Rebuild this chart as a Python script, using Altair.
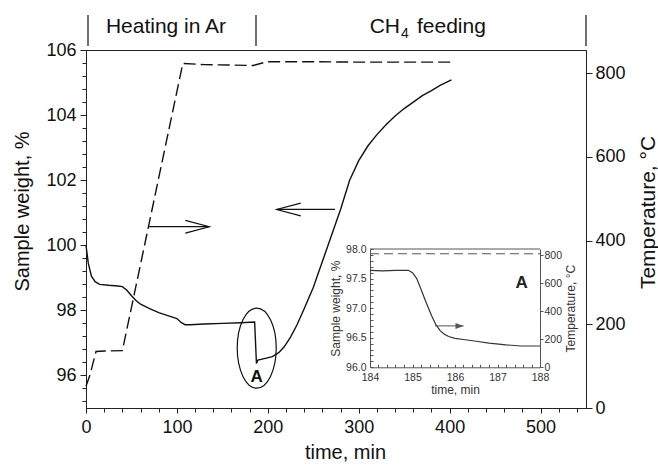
import altair as alt
import pandas as pd

FONT = "Liberation Sans"
INK = "#111111"
GREY = "#555555"

# ---- main run: sample weight, % (left axis) vs time, min ----
weight_time = [0, 2.5, 6, 10, 15, 25, 35, 40, 45, 50, 55, 60, 70, 80, 90, 100,
               105, 109, 115, 130, 150, 170, 185.5, 187.5, 189, 195, 205, 212,
               218, 225, 232, 240, 250, 260, 270, 280, 290, 300, 310, 320, 330,
               340, 350, 360, 370, 380, 390, 402]
weight_val = [100.0, 99.45, 99.05, 98.88, 98.8, 98.77, 98.75, 98.73, 98.62,
              98.45, 98.3, 98.19, 98.05, 97.93, 97.84, 97.75, 97.62, 97.56,
              97.56, 97.58, 97.6, 97.62, 97.64, 96.37, 96.47, 96.51, 96.58,
              96.7, 96.88, 97.18, 97.55, 98.05, 98.7, 99.5, 100.3, 101.1,
              102.0, 102.6, 103.05, 103.4, 103.7, 103.97, 104.2, 104.4, 104.6,
              104.75, 104.92, 105.08]

# ---- furnace temperature, °C (right axis) ----
temp_time = [0, 4.5, 11, 20, 40, 106.5, 130, 160, 184, 199, 250, 300, 350, 402]
temp_val = [52, 80, 135, 136, 137, 823, 820, 819, 818, 827, 827, 826, 826, 826]

# ---- detail "A": weight step right after CH4 is switched on ----
inset_time = [184.0, 184.3, 184.6, 184.9, 185.0, 185.1, 185.2, 185.33, 185.45,
              185.55, 185.65, 185.75, 185.85, 186.0, 186.2, 186.5, 186.8,
              187.2, 187.55, 188.0]
inset_val = [97.64, 97.63, 97.64, 97.64, 97.6, 97.5, 97.32, 97.08, 96.87,
             96.72, 96.62, 96.56, 96.52, 96.49, 96.47, 96.44, 96.41, 96.38,
             96.36, 96.36]
inset_temp_time = [184, 186, 188]
inset_temp_val = [811, 811, 811]

# ---- tick values ----
main_x_ticks = [0, 100, 200, 300, 400, 500]
main_x_minor = list(range(0, 541, 20))
main_y_ticks = [96, 98, 100, 102, 104, 106]
main_y_minor = [round(106 - 0.4 * k, 1) for k in range(28)]
temp_ticks = [0, 200, 400, 600, 800]
inset_x_ticks = [184, 185, 186, 187, 188]
inset_x_minor = [round(184 + 0.2 * k, 1) for k in range(21)]
inset_y_ticks = [96.0, 96.5, 97.0, 97.5, 98.0]
inset_y_minor = [round(96 + 0.1 * k, 1) for k in range(21)]

# ---- stage strip above the plot ----
stage_edges = [2.2, 187.0, 550.0]

# ---- annotation anchors (data units) ----
arrow_from = [68.5, 273.9]
arrow_to = [135.6, 209.8]
arrow_level = [100.57, 101.1]
ring_time, ring_weight = [187.8], [96.84]
ring_label_weight = [95.96]
inset_arrow_from, inset_arrow_to, inset_arrow_level = [185.53], [186.2], [96.70]
inset_label_time, inset_label_weight = [187.57], [97.42]

W, H = 500, 358

weight_df = pd.DataFrame({"t": weight_time, "w": weight_val})
temp_df = pd.DataFrame({"t": temp_time, "T": temp_val})
inset_df = pd.DataFrame({"t": inset_time, "w": inset_val})
inset_temp_df = pd.DataFrame({"t": inset_temp_time, "T": inset_temp_val})

X_MAIN = alt.Scale(domain=[0, 550], nice=False, zero=False)
Y_W = alt.Scale(domain=[95, 106], nice=False, zero=False)
Y_T = alt.Scale(domain=[0, 855], nice=False, zero=False)
IX = alt.Scale(domain=[184, 188], range=[284, 454], nice=False, zero=False)
IY_W = alt.Scale(domain=[96, 98], range=[317.3, 199], nice=False, zero=False)
IY_T = alt.Scale(domain=[0, 845], range=[317.3, 199], nice=False, zero=False)

# open V arrowheads (tip at the symbol centre) and the ring around step A
HEAD_RIGHT = "M-2,-0.53L0,0L-2,0.53"
HEAD_LEFT = "M2,-0.53L0,0L2,0.53"
HEAD_SMALL = "M-2,-0.75L0,0L-2,0.75Z"
RING = ("M0,-1C0.2692,-1 0.4875,-0.5523 0.4875,0C0.4875,0.5523 0.2692,1 0,1"
        "C-0.2692,1 -0.4875,0.5523 -0.4875,0C-0.4875,-0.5523 -0.2692,-1 0,-1Z")

# ---------------- main plot ----------------
weight_line = alt.Chart(weight_df).mark_line(color=INK, strokeWidth=1.4).encode(
    x=alt.X("t:Q", scale=X_MAIN, axis=alt.Axis(
        orient="bottom", values=main_x_ticks, format="d", tickSize=5,
        labelFontSize=18, labelPadding=5, labelFlush=False,
        title="time, min", titleFontSize=20, titleX=259, titleY=50,
        titleBaseline="alphabetic", titleAlign="center")),
    y=alt.Y("w:Q", scale=Y_W, axis=alt.Axis(
        orient="left", values=main_y_ticks, format="d", tickSize=6,
        labelFontSize=18, labelPadding=4,
        title="Sample weight, %", titleFontSize=20, titleAngle=270,
        titleX=-58, titleY=161, titleBaseline="alphabetic",
        titleAlign="center")),
)

minor_ticks = alt.Chart(weight_df).mark_point(opacity=0).encode(
    x=alt.X("t:Q", scale=X_MAIN, axis=alt.Axis(
        orient="bottom", values=main_x_minor, labels=False, domain=False,
        tickSize=4, title=None)),
    y=alt.Y("w:Q", scale=Y_W, axis=alt.Axis(
        orient="left", values=main_y_minor, labels=False, domain=False,
        tickSize=4, title=None)),
)

temp_line = alt.Chart(temp_df).mark_line(
    color=INK, strokeWidth=1.4, strokeDash=[12, 5]).encode(
    x=alt.X("t:Q", scale=X_MAIN, axis=None),
    y=alt.Y("T:Q", scale=Y_T, axis=alt.Axis(
        orient="right", values=temp_ticks, format="d", tickSize=6,
        labelFontSize=18, labelPadding=3,
        title="Temperature, °C", titleFontSize=21, titleAngle=270,
        titleX=68, titleY=162, titleBaseline="alphabetic",
        titleAlign="center")),
)

arrows_df = pd.DataFrame({"a": arrow_from, "b": arrow_to, "w": arrow_level})
shafts = alt.Chart(arrows_df).mark_rule(color=INK, strokeWidth=1.2).encode(
    x=alt.X("a:Q", scale=X_MAIN, axis=None), x2="b:Q",
    y=alt.Y("w:Q", scale=Y_W, axis=None))
head_r = alt.Chart(arrows_df.iloc[[0]]).mark_point(
    shape=HEAD_RIGHT, size=576, filled=False, stroke=INK, strokeWidth=1.2,
    opacity=1).encode(
    x=alt.X("b:Q", scale=X_MAIN, axis=None),
    y=alt.Y("w:Q", scale=Y_W, axis=None))
head_l = alt.Chart(arrows_df.iloc[[1]]).mark_point(
    shape=HEAD_LEFT, size=576, filled=False, stroke=INK, strokeWidth=1.2,
    opacity=1).encode(
    x=alt.X("b:Q", scale=X_MAIN, axis=None),
    y=alt.Y("w:Q", scale=Y_W, axis=None))

ring_df = pd.DataFrame({"t": ring_time, "w": ring_weight,
                        "wl": ring_label_weight, "label": ["A"]})
ring = alt.Chart(ring_df).mark_point(
    shape=RING, size=6400, filled=False, stroke=INK, strokeWidth=1.2,
    opacity=1).encode(
    x=alt.X("t:Q", scale=X_MAIN, axis=None),
    y=alt.Y("w:Q", scale=Y_W, axis=None))
ring_label = alt.Chart(ring_df).mark_text(
    font=FONT, fontSize=17, fontWeight="bold", color=INK,
    baseline="middle", align="center").encode(
    x=alt.X("t:Q", scale=X_MAIN, axis=None),
    y=alt.Y("wl:Q", scale=Y_W, axis=None), text="label:N")

stage_df = pd.DataFrame({"t": stage_edges})
stage_rules = alt.Chart(stage_df).mark_rule(color=INK, strokeWidth=1.2).encode(
    x=alt.X("t:Q", scale=X_MAIN, axis=None),
    y=alt.value(-35), y2=alt.value(-4))


def stage_text(t, label, size, align, dy=0):
    df = pd.DataFrame({"t": [t], "label": [label]})
    return alt.Chart(df).mark_text(
        font=FONT, fontSize=size, color=INK, align=align,
        baseline="middle", dy=dy).encode(
        x=alt.X("t:Q", scale=X_MAIN, axis=None),
        y=alt.value(-23), text="label:N")


stage_heat = stage_text(88.0, "Heating in Ar", 21, "center")
stage_ch = stage_text(345.4, "CH", 21, "right")
stage_sub = stage_text(346.5, "4", 14, "left", dy=7)
stage_feed = stage_text(364.1, "feeding", 21, "left")

main_notes = alt.layer(shafts, head_r, head_l, ring, ring_label, stage_rules,
                       stage_heat, stage_ch, stage_sub, stage_feed)

# ---------------- detail A ----------------
inset_axis_common = dict(labelFontSize=10.5, labelColor="#333333",
                         domainColor=GREY, tickColor=GREY,
                         titleFontSize=12, titleColor="#333333")

inset_line = alt.Chart(inset_df).mark_line(color="#333333", strokeWidth=1.2).encode(
    x=alt.X("t:Q", scale=IX, axis=alt.Axis(
        orient="bottom", offset=-40.7, values=inset_x_ticks, format="d",
        ticks=False, tickSize=0, labelPadding=5, labelFlush=False,
        title="time, min", titlePadding=2, **inset_axis_common)),
    y=alt.Y("w:Q", scale=IY_W, axis=alt.Axis(
        orient="left", offset=-284, values=inset_y_ticks, format=".1f",
        ticks=False, tickSize=0, labelPadding=4,
        title="Sample weight, %", titlePadding=3, **inset_axis_common)),
)

inset_ticks = alt.Chart(inset_df).mark_point(opacity=0).encode(
    x=alt.X("t:Q", scale=IX, axis=alt.Axis(
        orient="top", offset=-317.3, values=inset_x_minor, labels=False,
        domain=False, tickSize=3, tickColor=GREY, title=None)),
    y=alt.Y("w:Q", scale=IY_W, axis=alt.Axis(
        orient="right", offset=-216, values=inset_y_minor, labels=False,
        domain=False, tickSize=3, tickColor=GREY, title=None)),
)

inset_temp = alt.Chart(inset_temp_df).mark_line(
    color=GREY, strokeWidth=1.2, strokeDash=[9, 5]).encode(
    x=alt.X("t:Q", scale=IX, axis=None),
    y=alt.Y("T:Q", scale=IY_T, axis=alt.Axis(
        orient="right", offset=-46, values=temp_ticks, format="d",
        tickSize=3, labelPadding=1, labelBaseline="middle",
        title="Temperature, °C", titleAngle=270, titleBaseline="top",
        titlePadding=4, **inset_axis_common)),
)

frame_df = pd.DataFrame({"a": [184.0], "b": [188.0], "w": [98.0]})
inset_top = alt.Chart(frame_df).mark_rule(color=GREY, strokeWidth=1).encode(
    x=alt.X("a:Q", scale=IX, axis=None), x2="b:Q",
    y=alt.Y("w:Q", scale=IY_W, axis=None))

iarrow_df = pd.DataFrame({"a": inset_arrow_from, "b": inset_arrow_to,
                          "w": inset_arrow_level})
inset_shaft = alt.Chart(iarrow_df).mark_rule(color=GREY, strokeWidth=1).encode(
    x=alt.X("a:Q", scale=IX, axis=None), x2="b:Q",
    y=alt.Y("w:Q", scale=IY_W, axis=None))
inset_head = alt.Chart(iarrow_df).mark_point(
    shape=HEAD_SMALL, size=64, filled=True, color=GREY, opacity=1).encode(
    x=alt.X("b:Q", scale=IX, axis=None),
    y=alt.Y("w:Q", scale=IY_W, axis=None))

ilabel_df = pd.DataFrame({"t": inset_label_time, "w": inset_label_weight,
                          "label": ["A"]})
inset_label = alt.Chart(ilabel_df).mark_text(
    font=FONT, fontSize=17, fontWeight="bold", color="#222222",
    baseline="middle", align="center").encode(
    x=alt.X("t:Q", scale=IX, axis=None),
    y=alt.Y("w:Q", scale=IY_W, axis=None), text="label:N")

inset_notes = alt.layer(inset_top, inset_shaft, inset_head, inset_label)

chart = alt.layer(
    weight_line, minor_ticks, temp_line, main_notes,
    inset_line, inset_ticks, inset_temp, inset_notes,
).resolve_scale(
    x="independent", y="independent"
).properties(
    width=W, height=H,
    padding={"left": 86, "top": 50, "right": 72, "bottom": 58},
    autosize=alt.AutoSizeParams(type="none"),
    background="white",
).configure_view(
    stroke="#222222", strokeWidth=1
).configure_axis(
    labelFont=FONT, titleFont=FONT, labelColor=INK, titleColor=INK,
    domainColor="#222222", tickColor="#222222", domainWidth=1, tickWidth=1,
    titleFontWeight="normal", grid=False, labelOverlap=False,
)

chart.save("out.html", embed_options={"renderer": "svg", "actions": False})
